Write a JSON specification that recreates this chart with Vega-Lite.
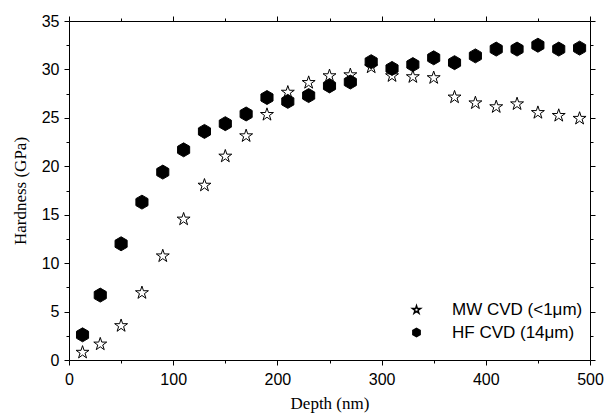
{
  "$schema": "https://vega.github.io/schema/vega-lite/v6.json",
  "width": 521,
  "height": 339,
  "autosize": {"type": "none"},
  "padding": {"left": 69, "top": 21, "right": 15, "bottom": 55},
  "background": "white",
  "config": {
    "view": {"stroke": null},
    "axis": {
      "grid": false,
      "domainColor": "black",
      "domainWidth": 1,
      "tickColor": "black",
      "tickWidth": 1,
      "labelColor": "black",
      "titleColor": "black",
      "labelFont": "Liberation Sans",
      "labelFontSize": 16,
      "titleFont": "Liberation Serif",
      "titleFontSize": 17,
      "titleFontWeight": "normal"
    },
    "legend": {
      "labelFont": "Liberation Sans",
      "labelFontSize": 17,
      "labelColor": "black"
    }
  },
  "data": {
    "values": [
      {"series": "MW CVD (<1μm)", "depth": 13, "hardness": 0.85},
      {"series": "MW CVD (<1μm)", "depth": 30, "hardness": 1.7},
      {"series": "MW CVD (<1μm)", "depth": 50, "hardness": 3.6},
      {"series": "MW CVD (<1μm)", "depth": 70, "hardness": 7.0},
      {"series": "MW CVD (<1μm)", "depth": 90, "hardness": 10.8},
      {"series": "MW CVD (<1μm)", "depth": 110, "hardness": 14.6},
      {"series": "MW CVD (<1μm)", "depth": 130, "hardness": 18.1},
      {"series": "MW CVD (<1μm)", "depth": 150, "hardness": 21.1},
      {"series": "MW CVD (<1μm)", "depth": 170, "hardness": 23.2},
      {"series": "MW CVD (<1μm)", "depth": 190, "hardness": 25.4},
      {"series": "MW CVD (<1μm)", "depth": 210, "hardness": 27.7},
      {"series": "MW CVD (<1μm)", "depth": 230, "hardness": 28.7},
      {"series": "MW CVD (<1μm)", "depth": 250, "hardness": 29.4},
      {"series": "MW CVD (<1μm)", "depth": 270, "hardness": 29.5},
      {"series": "MW CVD (<1μm)", "depth": 290, "hardness": 30.3},
      {"series": "MW CVD (<1μm)", "depth": 310, "hardness": 29.4},
      {"series": "MW CVD (<1μm)", "depth": 330, "hardness": 29.3},
      {"series": "MW CVD (<1μm)", "depth": 350, "hardness": 29.2},
      {"series": "MW CVD (<1μm)", "depth": 370, "hardness": 27.2},
      {"series": "MW CVD (<1μm)", "depth": 390, "hardness": 26.6},
      {"series": "MW CVD (<1μm)", "depth": 410, "hardness": 26.2},
      {"series": "MW CVD (<1μm)", "depth": 430, "hardness": 26.5},
      {"series": "MW CVD (<1μm)", "depth": 450, "hardness": 25.6},
      {"series": "MW CVD (<1μm)", "depth": 470, "hardness": 25.3},
      {"series": "MW CVD (<1μm)", "depth": 490, "hardness": 25.0},
      {"series": "HF CVD (14μm)", "depth": 13, "hardness": 2.6},
      {"series": "HF CVD (14μm)", "depth": 30, "hardness": 6.7},
      {"series": "HF CVD (14μm)", "depth": 50, "hardness": 12.0},
      {"series": "HF CVD (14μm)", "depth": 70, "hardness": 16.3},
      {"series": "HF CVD (14μm)", "depth": 90, "hardness": 19.4},
      {"series": "HF CVD (14μm)", "depth": 110, "hardness": 21.7},
      {"series": "HF CVD (14μm)", "depth": 130, "hardness": 23.6},
      {"series": "HF CVD (14μm)", "depth": 150, "hardness": 24.4},
      {"series": "HF CVD (14μm)", "depth": 170, "hardness": 25.4},
      {"series": "HF CVD (14μm)", "depth": 190, "hardness": 27.1},
      {"series": "HF CVD (14μm)", "depth": 210, "hardness": 26.7},
      {"series": "HF CVD (14μm)", "depth": 230, "hardness": 27.3},
      {"series": "HF CVD (14μm)", "depth": 250, "hardness": 28.3},
      {"series": "HF CVD (14μm)", "depth": 270, "hardness": 28.7},
      {"series": "HF CVD (14μm)", "depth": 290, "hardness": 30.8},
      {"series": "HF CVD (14μm)", "depth": 310, "hardness": 30.1},
      {"series": "HF CVD (14μm)", "depth": 330, "hardness": 30.5},
      {"series": "HF CVD (14μm)", "depth": 350, "hardness": 31.2},
      {"series": "HF CVD (14μm)", "depth": 370, "hardness": 30.7},
      {"series": "HF CVD (14μm)", "depth": 390, "hardness": 31.4},
      {"series": "HF CVD (14μm)", "depth": 410, "hardness": 32.1},
      {"series": "HF CVD (14μm)", "depth": 430, "hardness": 32.1},
      {"series": "HF CVD (14μm)", "depth": 450, "hardness": 32.5},
      {"series": "HF CVD (14μm)", "depth": 470, "hardness": 32.1},
      {"series": "HF CVD (14μm)", "depth": 490, "hardness": 32.2}
    ]
  },
  "layer": [
    {
      "mark": {"type": "point", "filled": true, "stroke": "black", "strokeWidth": 1, "opacity": 1},
      "encoding": {
        "x": {
          "field": "depth", "type": "quantitative", "title": "Depth (nm)",
          "scale": {"domain": [0, 500], "nice": false, "zero": false},
          "axis": {
            "orient": "bottom",
            "values": [0, 50, 100, 150, 200, 250, 300, 350, 400, 450, 500],
            "labelExpr": "datum.value % 100 === 0 ? datum.label : ''",
            "tickSize": {"condition": {"test": "datum.value % 100 === 0", "value": 5}, "value": 3},
            "labelPadding": 6,
            "titlePadding": 8,
            "labelFlush": false,
            "labelOverlap": false
          }
        },
        "y": {
          "field": "hardness", "type": "quantitative", "title": "Hardness (GPa)",
          "scale": {"domain": [0, 35], "nice": false, "zero": false},
          "axis": {
            "orient": "left",
            "values": [0, 2.5, 5, 7.5, 10, 12.5, 15, 17.5, 20, 22.5, 25, 27.5, 30, 32.5, 35],
            "labelExpr": "datum.value % 5 === 0 ? datum.label : ''",
            "tickSize": {"condition": {"test": "datum.value % 5 === 0", "value": 5}, "value": 3},
            "labelPadding": 5,
            "titlePadding": 12,
            "labelFlush": false,
            "labelOverlap": false
          }
        },
        "shape": {
          "field": "series", "type": "nominal",
          "scale": {
            "domain": ["MW CVD (<1μm)", "HF CVD (14μm)"],
            "range": [
              "M0,-0.9045L0.2245,-0.2135L0.951,-0.2135L0.363,0.2135L0.588,0.9045L0,0.4775L-0.588,0.9045L-0.363,0.2135L-0.951,-0.2135L-0.2245,-0.2135Z",
              "M0,-1L0.866,-0.5L0.866,0.5L0,1L-0.866,0.5L-0.866,-0.5Z"
            ]
          },
          "legend": {
            "title": null, "orient": "none", "legendX": 339, "legendY": 280,
            "padding": 0, "symbolSize": 70, "labelOffset": 27, "rowPadding": 5,
            "encode": {"symbols": {"update": {
              "stroke": {"value": "black"},
              "fill": {"signal": "datum.value === 'HF CVD (14μm)' ? 'black' : 'white'"},
              "strokeWidth": {"signal": "datum.value === 'HF CVD (14μm)' ? 1 : 0.6"},
              "size": {"signal": "datum.value === 'HF CVD (14μm)' ? 70 : 130"}
            }}}
          }
        },
        "fill": {
          "field": "series", "type": "nominal",
          "scale": {"domain": ["MW CVD (<1μm)", "HF CVD (14μm)"], "range": ["white", "black"]},
          "legend": {
            "title": null, "orient": "none", "legendX": 339, "legendY": 280,
            "padding": 0, "symbolSize": 70, "labelOffset": 27, "rowPadding": 5,
            "encode": {"symbols": {"update": {
              "stroke": {"value": "black"},
              "fill": {"signal": "datum.value === 'HF CVD (14μm)' ? 'black' : 'white'"},
              "strokeWidth": {"signal": "datum.value === 'HF CVD (14μm)' ? 1 : 0.6"},
              "size": {"signal": "datum.value === 'HF CVD (14μm)' ? 70 : 130"}
            }}}
          }
        },
        "size": {
          "condition": {"test": "datum.series === 'HF CVD (14μm)'", "value": 195},
          "value": 185
        }
      }
    },
    {
      "mark": {"type": "point", "opacity": 0},
      "encoding": {
        "x": {
          "field": "depth", "type": "quantitative",
          "axis": {
            "orient": "top", "title": null, "labels": false,
            "values": [0, 50, 100, 150, 200, 250, 300, 350, 400, 450, 500],
            "tickSize": {"condition": {"test": "datum.value % 100 === 0", "value": 5}, "value": 3}
          }
        },
        "y": {
          "field": "hardness", "type": "quantitative",
          "axis": {
            "orient": "right", "title": null, "labels": false,
            "values": [0, 2.5, 5, 7.5, 10, 12.5, 15, 17.5, 20, 22.5, 25, 27.5, 30, 32.5, 35],
            "tickSize": {"condition": {"test": "datum.value % 5 === 0", "value": 5}, "value": 3}
          }
        }
      }
    }
  ],
  "resolve": {"axis": {"x": "independent", "y": "independent"}}
}
